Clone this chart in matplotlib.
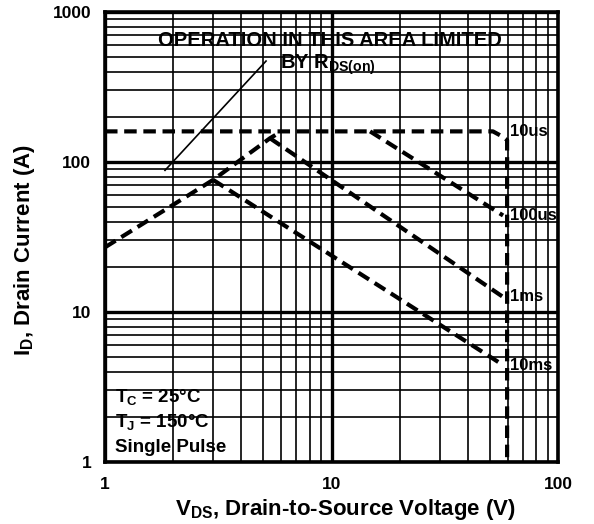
import matplotlib.pyplot as plt
import numpy as np
from matplotlib.ticker import FixedLocator, LogLocator, NullFormatter

plt.rcParams['font.family'] = ['Liberation Sans', 'DejaVu Sans']
plt.rcParams['font.weight'] = 'bold'
plt.rcParams['mathtext.fontset'] = 'custom'
plt.rcParams['mathtext.rm'] = 'Liberation Sans:bold'
plt.rcParams['mathtext.it'] = 'Liberation Sans:bold'
plt.rcParams['mathtext.bf'] = 'Liberation Sans:bold'

# rising boundary shared by the pulse curves
limit_vds = [1.0, 3.0, 5.35, 5.93]
limit_id = [27, 76, 144, 158]

# R_DS(on) limit (solid)
rds_vds = [1.84, 5.14]
rds_id = [88, 471]

vds_10us = [1.0, 51.6, 57.2, 59.6, 59.6]
id_10us = [160, 160, 147, 140, 1]

vds_100us = [14.8, 57.2]
id_100us = [160, 44]

vds_1ms = [5.35, 57.2]
id_1ms = [144, 12.6]

vds_10ms = [3.0, 57.2]
id_10ms = [76, 4.43]

pulse_labels = ['10us', '100us', '1ms', '10ms']
label_id = [160, 44, 12.6, 4.43]

cond_lines = [r'T$_{\mathrm{C}}$ = 25°C', r'T$_{\mathrm{J}}$ = 150°C', 'Single Pulse']

x_ticks = [1, 10, 100]
y_ticks = [1, 10, 100, 1000]

fig = plt.figure(figsize=(5.94, 5.24), dpi=100)
ax = fig.add_axes([0.1768, 0.1183, 0.7626, 0.8588])
ax.set_xscale('log')
ax.set_yscale('log')
ax.set_xlim(1, 100)
ax.set_ylim(1, 1000)

ax.xaxis.set_major_locator(FixedLocator(x_ticks))
ax.yaxis.set_major_locator(FixedLocator(y_ticks))
ax.xaxis.set_minor_locator(LogLocator(base=10, subs=np.arange(2, 10)))
ax.yaxis.set_minor_locator(LogLocator(base=10, subs=np.arange(2, 10)))
ax.xaxis.set_minor_formatter(NullFormatter())
ax.yaxis.set_minor_formatter(NullFormatter())
ax.set_xticklabels([str(t) for t in x_ticks])
ax.set_yticklabels([str(t) for t in y_ticks])
ax.tick_params(which='both', length=0)
ax.tick_params(axis='x', pad=11, labelsize=12.5)
ax.tick_params(axis='y', pad=10, labelsize=12.5)

ax.grid(which='major', color='black', lw=2.4)
ax.grid(which='minor', color='black', lw=1.2)
ax.set_axisbelow(True)
for s in ax.spines.values():
    s.set_linewidth(2.6)

dash = dict(color='black', lw=3.0, ls=(0, (3, 1.6)))
ax.plot(limit_vds, limit_id, **dash)
ax.plot(vds_10us, id_10us, **dash)
ax.plot(vds_100us, id_100us, **dash)
ax.plot(vds_1ms, id_1ms, **dash)
ax.plot(vds_10ms, id_10ms, **dash)
ax.plot(rds_vds, rds_id, color='black', lw=1.2)

for lab, yv in zip(pulse_labels, label_id):
    ax.text(61.5, yv, lab, fontsize=12, fontweight='bold', va='center', ha='left')

ax.text(0.497, 0.936, 'OPERATION IN THIS AREA LIMITED', transform=ax.transAxes,
        fontsize=14.5, fontweight='bold', ha='center', va='center')
ax.text(0.386, 0.882, r'BY R$_{\mathrm{DS(on)}}$', transform=ax.transAxes,
        fontsize=14.5, fontweight='bold', ha='left', va='center')

for i, line in enumerate(cond_lines):
    ax.text(0.022, 0.144 - i * 0.056, line, transform=ax.transAxes, fontsize=13.5,
            fontweight='bold', va='center', ha='left')

ax.set_xlabel(r'V$_{\mathrm{DS}}$, Drain-to-Source Voltage (V)', fontsize=16,
              fontweight='bold')
ax.xaxis.set_label_coords(0.53, -0.078)
ax.set_ylabel(r'I$_{\mathrm{D}}$, Drain Current (A)', fontsize=16,
              fontweight='bold')
ax.yaxis.set_label_coords(-0.15, 0.47)

fig.savefig('out.png', dpi=100)
